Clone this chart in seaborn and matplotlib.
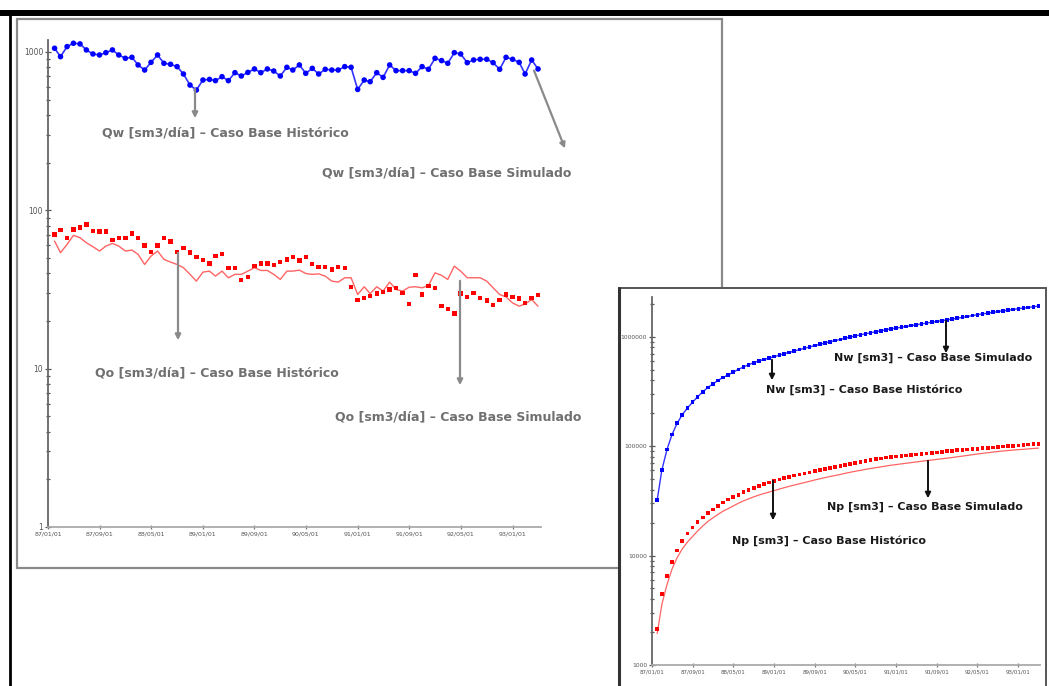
import numpy as np
import pandas as pd
import matplotlib
matplotlib.use("Agg")
import matplotlib.pyplot as plt
from matplotlib.patches import Rectangle, FancyArrowPatch
from matplotlib.lines import Line2D
from matplotlib.ticker import NullFormatter, LogLocator
import seaborn as sns

# datos mensuales, 87/02 .. 93/05
fechas = pd.date_range("1987-02-01", periods=76, freq="MS")

# Qw [sm3/dia] (historico y simulado coinciden)
qw = [1055, 934, 1081, 1135, 1124, 1030, 971, 957, 990, 1030,
      957, 912, 925, 828, 769, 860, 957, 848, 836, 808,
      726, 618, 575, 665, 671, 659, 698, 659, 740, 705,
      743, 781, 740, 781, 758, 705, 800, 769, 828, 733,
      788, 726, 777, 769, 769, 808, 800, 580, 665, 649,
      740, 691, 828, 762, 762, 762, 733, 808, 777, 912,
      882, 848, 990, 971, 856, 890, 899, 899, 856, 777,
      925, 899, 860, 726, 890, 781]

# Qo [sm3/dia] historico (puntos)
qo_hist = [70.5, 75.1, 67.1, 75.8, 77.7, 81.5, 74.0, 73.3, 73.3, 64.9,
           67.1, 67.1, 71.5, 67.1, 60.0, 54.5, 60.0, 67.1, 63.4, 54.5,
           58.0, 54.0, 50.9, 48.5, 46.2, 51.4, 53.2, 43.4, 43.4, 36.2,
           38.0, 44.4, 46.2, 46.2, 45.1, 47.3, 49.0, 50.7, 48.3, 50.9,
           46.0, 44.0, 44.0, 42.3, 44.0, 43.4, 32.7, 27.1, 28.0, 28.7,
           29.8, 30.4, 31.6, 32.4, 30.1, 25.6, 39.0, 29.4, 33.2, 32.4,
           24.8, 23.9, 22.3, 29.8, 28.4, 30.1, 28.0, 26.9, 25.2, 27.1,
           29.4, 28.4, 27.7, 26.0, 28.0, 29.1]

# Qo [sm3/dia] simulado (linea)
qo_sim = [63.9, 54.0, 60.9, 69.5, 67.1, 62.4, 58.9, 55.3, 59.4, 61.8,
          59.4, 55.3, 56.1, 52.7, 45.5, 51.4, 55.3, 49.0, 47.1, 45.5,
          43.4, 39.4, 35.7, 40.7, 41.3, 38.4, 41.3, 37.5, 39.4, 39.4,
          41.3, 43.4, 41.7, 41.7, 39.4, 36.6, 41.3, 41.3, 41.9, 39.9,
          39.4, 39.7, 38.4, 35.7, 35.2, 37.5, 37.5, 29.4, 32.9, 29.8,
          32.9, 30.9, 35.2, 31.6, 30.9, 32.7, 32.9, 32.4, 33.5, 40.3,
          38.8, 36.6, 44.4, 41.3, 37.5, 37.5, 37.5, 35.7, 32.4, 29.4,
          28.4, 26.0, 24.8, 25.6, 27.3, 24.8]

# Nw [sm3] acumulada
nw = [32100, 60500, 93300, 127800, 162000, 193300, 222800, 251900, 282000, 313300,
      342400, 370200, 398300, 423400, 446800, 473000, 502100, 527800, 553200, 577800,
      599900, 618700, 636200, 656400, 676800, 696800, 718000, 738100, 760500, 782000,
      804600, 828300, 850800, 874500, 897600, 919000, 943300, 966700, 991900, 1014200,
      1038100, 1060200, 1083800, 1107200, 1130600, 1155100, 1179500, 1197100, 1217300, 1237000,
      1259500, 1280500, 1305700, 1328900, 1352000, 1375200, 1397500, 1422100, 1445700, 1473400,
      1500200, 1526000, 1556100, 1585600, 1611600, 1638700, 1666000, 1693300, 1719400, 1743000,
      1771100, 1798400, 1824600, 1846600, 1873700, 1897400]

# Np [sm3] acumulada, historico y simulado
np_hist = [2140, 4430, 6470, 8770, 11130, 13610, 15860, 18090, 20320, 22290,
           24330, 26370, 28540, 30580, 32410, 34060, 35890, 37930, 39850, 41510,
           43270, 44920, 46460, 47940, 49340, 50900, 52520, 53840, 55160, 56260,
           57420, 58770, 60170, 61580, 62950, 64380, 65870, 67410, 68880, 70430,
           71830, 73170, 74500, 75790, 77130, 78450, 79440, 80270, 81120, 81990,
           82890, 83820, 84780, 85760, 86680, 87460, 88640, 89540, 90550, 91530,
           92290, 93010, 93690, 94600, 95460, 96370, 97230, 98040, 98810, 99630,
           100530, 101390, 102230, 103020, 103870, 104760]
np_sim = [1940, 3580, 5440, 7550, 9590, 11490, 13280, 14960, 16760, 18640,
          20450, 22130, 23830, 25440, 26820, 28380, 30060, 31550, 32980, 34370,
          35690, 36880, 37970, 39210, 40460, 41630, 42890, 44030, 45220, 46420,
          47680, 49000, 50260, 51530, 52730, 53840, 55100, 56350, 57630, 58840,
          60040, 61240, 62410, 63500, 64570, 65710, 66850, 67740, 68740, 69650,
          70650, 71590, 72660, 73620, 74560, 75550, 76550, 77540, 78550, 79780,
          80960, 82070, 83420, 84680, 85820, 86960, 88100, 89180, 90170, 91060,
          91920, 92710, 93470, 94250, 95080, 95830]

tick_fechas = ["1987-01-01", "1987-09-01", "1988-05-01", "1989-01-01", "1989-09-01",
               "1990-05-01", "1991-01-01", "1991-09-01", "1992-05-01", "1993-01-01"]
tick_labels = ["87/01/01", "87/09/01", "88/05/01", "89/01/01", "89/09/01",
               "90/05/01", "91/01/01", "91/09/01", "92/05/01", "93/01/01"]

df = pd.DataFrame({"fecha": fechas, "qw": qw, "qo_hist": qo_hist, "qo_sim": qo_sim,
                   "nw": nw, "np_hist": np_hist, "np_sim": np_sim})

W, H = 1049, 686
def fx(x): return x / W
def fy(y): return 1 - y / H

sns.set_theme(style="white")
plt.rcParams["font.family"] = ["DejaVu Sans"]

fig = plt.figure(figsize=(W / 100, H / 100), dpi=100)

# marcos
fig.add_artist(Line2D([0, 1], [fy(13), fy(13)], color="black", lw=4.3,
                      transform=fig.transFigure, zorder=5))
fig.add_artist(Line2D([fx(10), fx(10)], [fy(11), 0], color="black", lw=2,
                      transform=fig.transFigure, zorder=5))
fig.add_artist(Rectangle((fx(17), fy(568)), fx(722) - fx(17), fy(19) - fy(568),
                         facecolor="white", edgecolor="#8a8a8a", lw=1.6,
                         transform=fig.transFigure, zorder=0.5))
fig.add_artist(Rectangle((fx(619), fy(700)), fx(1046) - fx(619), fy(288) - fy(700),
                         facecolor="white", edgecolor="#555555", lw=1.4,
                         transform=fig.transFigure, zorder=2))
fig.add_artist(Line2D([fx(619), fx(619)], [fy(288), 0], color="#333333", lw=2.2,
                      transform=fig.transFigure, zorder=2.1))

def estilo(ax, ylim, yticks, ylabels, xmax, ysize, xsize):
    ax.set_yscale("log")
    ax.set_ylim(*ylim)
    ax.set_xlim(pd.Timestamp("1987-01-01"), pd.Timestamp(xmax))
    ax.set_yticks(yticks, ylabels)
    ax.yaxis.set_minor_locator(LogLocator(base=10, subs=np.arange(2, 10)))
    ax.yaxis.set_minor_formatter(NullFormatter())
    ax.set_xticks(pd.to_datetime(tick_fechas), tick_labels)
    ax.set_xlabel("")
    ax.set_ylabel("")
    ax.patch.set_alpha(0)
    for s in ["top", "right"]:
        ax.spines[s].set_visible(False)
    ax.spines["left"].set_color("#666666")
    ax.spines["bottom"].set_color("#aaaaaa")
    ax.spines["left"].set_linewidth(1.3)
    ax.spines["bottom"].set_linewidth(1.3)
    ax.tick_params(which="both", left=True, bottom=True)
    ax.tick_params(axis="y", which="major", direction="inout", length=5, width=0.9,
                   color="#555555", labelsize=ysize, labelcolor="#555555", pad=1)
    ax.tick_params(axis="y", which="minor", direction="inout", length=3, width=0.9,
                   color="#555555")
    ax.tick_params(axis="x", which="major", direction="inout", length=3, width=0.9,
                   color="#777777", labelsize=xsize, labelcolor="#555555", pad=2)
    ax.tick_params(axis="x", which="minor", length=0)

# grafico de caudales
ax1 = fig.add_axes([fx(48), fy(527), fx(541) - fx(48), fy(40) - fy(527)], zorder=1)
sns.lineplot(data=df, x="fecha", y="qw", ax=ax1, color="#3333ff", lw=1.2)
sns.scatterplot(data=df, x="fecha", y="qw", ax=ax1, color="#0000ff", s=16,
                edgecolor="none", marker="o", zorder=3)
sns.lineplot(data=df, x="fecha", y="qo_sim", ax=ax1, color="#ff6464", lw=1.0)
sns.scatterplot(data=df, x="fecha", y="qo_hist", ax=ax1, color="#ff0000", s=10,
                edgecolor="none", marker="s", zorder=3)
estilo(ax1, (1, 1190), [1, 10, 100, 1000], ["1", "10", "100", "1000"],
       "1993-05-15", 5.5, 4.5)

# grafico de acumuladas
ax2 = fig.add_axes([fx(652), fy(665), fx(1040) - fx(652), fy(297) - fy(665)], zorder=3)
sns.lineplot(data=df, x="fecha", y="nw", ax=ax2, color="#3333ff", lw=1.0)
sns.scatterplot(data=df, x="fecha", y="nw", ax=ax2, color="#0000ff", s=7,
                edgecolor="none", marker="s", zorder=3)
sns.lineplot(data=df, x="fecha", y="np_sim", ax=ax2, color="#ff6464", lw=0.9)
sns.scatterplot(data=df, x="fecha", y="np_hist", ax=ax2, color="#ff0000", s=7,
                edgecolor="none", marker="s", zorder=3)
estilo(ax2, (1000, 2.3e6), [1e3, 1e4, 1e5, 1e6], ["1000", "10000", "100000", "1000000"],
       "1993-05-10", 4.3, 4.0)
for c in ax2.collections:
    c.set_clip_on(False)

# rotulos y flechas
gris = "#707070"
rot_izq = [("Qw [sm3/día] – Caso Base Histórico", 225, 133),
           ("Qw [sm3/día] – Caso Base Simulado", 447, 173),
           ("Qo [sm3/día] – Caso Base Histórico", 217, 373),
           ("Qo [sm3/día] – Caso Base Simulado", 458, 417)]
for t, x, y in rot_izq:
    fig.text(fx(x), fy(y), t, ha="center", va="center", fontsize=9,
             fontweight="bold", color=gris, zorder=1.5)

flechas_izq = [((195, 86), (195, 121)), ((533, 68), (566, 151)),
               ((178, 250), (178, 343)), ((460, 278), (460, 388))]
for a, b in flechas_izq:
    fig.add_artist(FancyArrowPatch((fx(a[0]), fy(a[1])), (fx(b[0]), fy(b[1])),
                                   arrowstyle="-|>", mutation_scale=8, color="#8a8a8a",
                                   lw=1.6, transform=fig.transFigure, zorder=1.5))

rot_der = [("Nw [sm3] – Caso Base Simulado", 933, 358),
           ("Nw [sm3] – Caso Base Histórico", 864, 390),
           ("Np [sm3] – Caso Base Simulado", 925, 507),
           ("Np [sm3] – Caso Base Histórico", 829, 541)]
for t, x, y in rot_der:
    fig.text(fx(x), fy(y), t, ha="center", va="center", fontsize=8,
             fontweight="bold", color="#1a1a1a", zorder=4)

flechas_der = [((946, 318), (946, 356)), ((772, 357), (772, 383)),
               ((928, 458), (928, 501)), ((773, 478), (773, 523))]
for a, b in flechas_der:
    fig.add_artist(FancyArrowPatch((fx(a[0]), fy(a[1])), (fx(b[0]), fy(b[1])),
                                   arrowstyle="-|>", mutation_scale=8, color="#111111",
                                   lw=1.4, transform=fig.transFigure, zorder=4))

fig.savefig("out.png", dpi=100)
